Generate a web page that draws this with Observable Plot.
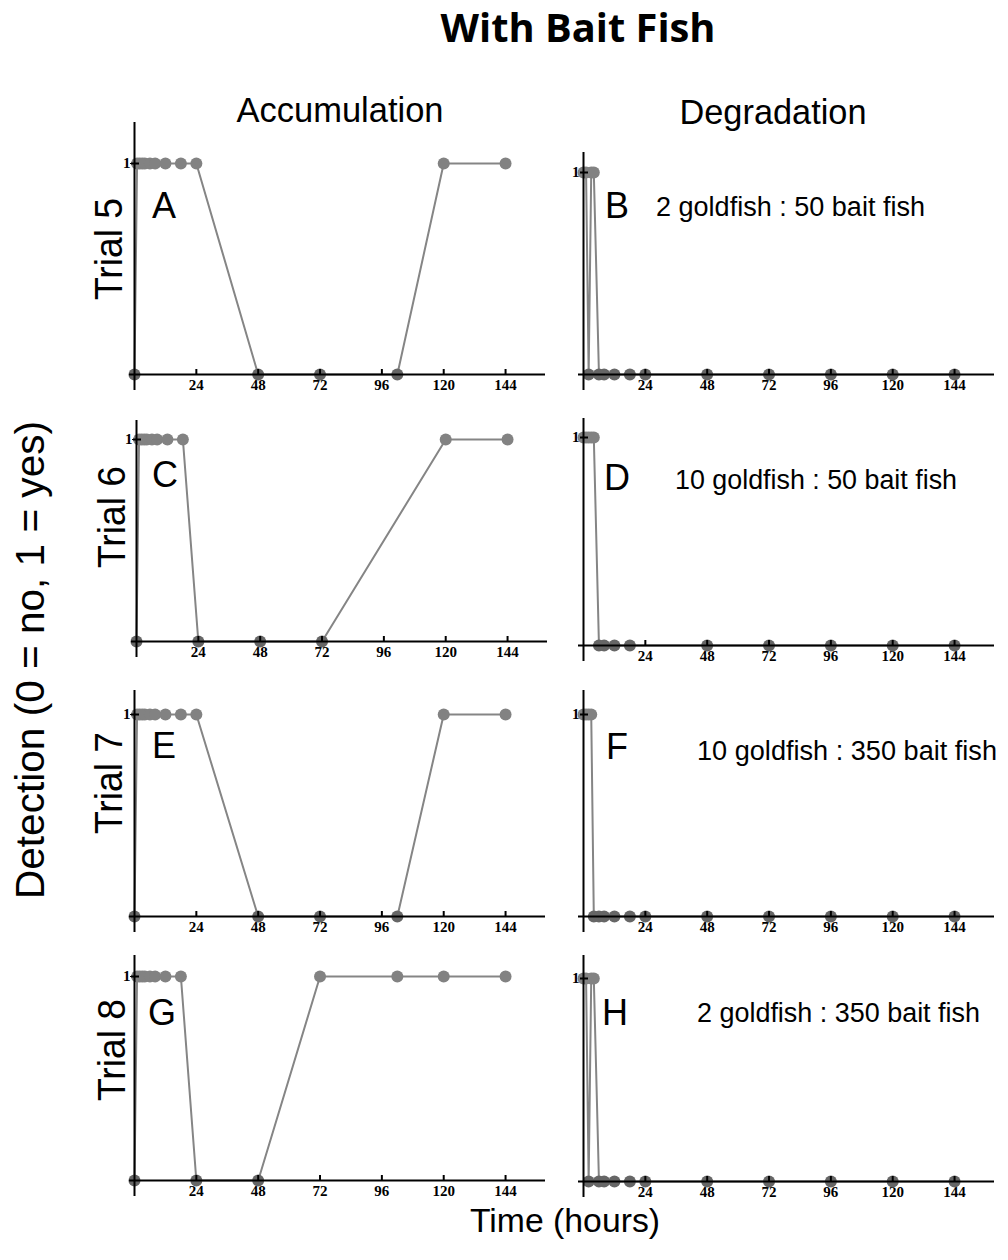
<!DOCTYPE html>
<html><head><meta charset="utf-8">
<script src="https://cdn.jsdelivr.net/npm/d3@7"></script>
<script src="https://cdn.jsdelivr.net/npm/@observablehq/plot@0.6"></script>
<style>
body{margin:0;background:#fff;}
#root{position:relative;width:1008px;height:1260px;overflow:hidden;}
.panel{position:absolute;}
.panel text{font-family:'Liberation Serif','Times New Roman',serif !important;font-weight:bold !important;font-size:15px !important;fill:#000;}
#overlay{position:absolute;left:0;top:0;pointer-events:none;}
</style></head><body><div id="root"></div>
<script>
// ---- data (hours, detection 0/1) ----
const timeA = [0,1,2,3,4,6,8,12,18,24,48,72,102,120,144];
const detA  = [0,1,1,1,1,1,1,1,1,1,0,0,0,1,1];
const timeB = [0,1,2,3,4,6,8,12,18,24,48,72,96,120,144];
const detB  = [1,1,0,1,1,0,0,0,0,0,0,0,0,0,0];
const timeC = [0,1,2,3,4,6,8,12,18,24,48,72,120,144];
const detC  = [0,1,1,1,1,1,1,1,1,0,0,0,1,1];
const timeD = [0,1,2,3,4,6,8,12,18,48,72,96,120,144];
const detD  = [1,1,1,1,1,0,0,0,0,0,0,0,0,0];
const timeE = [0,1,2,3,4,6,8,12,18,24,48,72,102,120,144];
const detE  = [0,1,1,1,1,1,1,1,1,1,0,0,0,1,1];
const timeF = [0,1,2,3,4,6,8,12,18,24,48,72,96,120,144];
const detF  = [1,1,1,1,0,0,0,0,0,0,0,0,0,0,0];
const timeG = [0,1,2,3,4,6,8,12,18,24,48,72,102,120,144];
const detG  = [0,1,1,1,1,1,1,1,1,0,0,1,1,1,1];
const timeH = [0,1,2,3,4,6,8,12,18,24,48,72,96,120,144];
const detH  = [1,1,0,1,1,0,0,0,0,0,0,0,0,0,0];

const xTicks = [24,48,72,96,120,144];
const yTicks = [1];
const panelLetters = ["A","B","C","D","E","F","G","H"];
const trialLabels = ["Trial 5","Trial 6","Trial 7","Trial 8"];
const columnTitles = ["Accumulation","Degradation"];
const ratioNotes = ["2 goldfish : 50 bait fish","10 goldfish : 50 bait fish","10 goldfish : 350 bait fish","2 goldfish : 350 bait fish"];
const chartTitle = "With Bait Fish";
const xTitle = "Time (hours)";
const yTitle = "Detection  (0 = no, 1 = yes)";

// ---- layout ----
const series = [[timeA,detA],[timeB,detB],[timeC,detC],[timeD,detD],[timeE,detE],[timeF,detF],[timeG,detG],[timeH,detH]];
const layout = [
  {ox:134, y1:163, y0:374, top:122},
  {ox:583, y1:172, y0:374, top:152},
  {ox:136, y1:439, y0:641, top:420},
  {ox:583, y1:437, y0:645, top:418},
  {ox:134, y1:714, y0:916, top:690},
  {ox:583, y1:714, y0:916, top:690},
  {ox:134, y1:976, y0:1180, top:955},
  {ox:583, y1:978, y0:1181, top:955}
];
const plotW = 411; // px from origin to end of x axis
const xMax = 159.5;

const root = document.getElementById("root");

series.forEach(([ts, vs], i) => {
  const L = layout[i];
  const data = ts.map((t, k) => ({t, v: vs[k]}));
  const svgLeft = L.ox - 60;
  const svgTop = L.top - 10;
  const width = 60 + plotW + 12;
  const marginTop = L.y1 - svgTop;
  const frameH = L.y0 - L.y1;
  const height = marginTop + frameH + 34;
  const chart = Plot.plot({
    width, height,
    marginLeft: 60, marginRight: 12, marginTop, marginBottom: 34,
    style: {background: "transparent", overflow: "visible"},
    x: {domain: [0, xMax], ticks: xTicks, tickSize: 0, tickPadding: 5, label: null},
    y: {domain: [0, 1], ticks: yTicks, tickSize: 4, tickPadding: 0, tickFormat: d => String(d), label: null},
    marks: [
      Plot.line(data, {x: "t", y: "v", stroke: "#858585", strokeWidth: 2}),
      Plot.dot(data.filter(d => d.v === 1), {x: "t", y: "v", r: 6, fill: "#828282"}),
      Plot.dot(data.filter(d => d.v === 0), {x: "t", y: "v", r: 6, fill: "#666666"}),
      Plot.ruleY([0], {stroke: "#000", strokeWidth: 2, insetLeft: -5}),
      Plot.ruleX([0], {stroke: "#000", strokeWidth: 2, insetTop: -(L.y1 - L.top), insetBottom: -16}),
      Plot.tickX(xTicks, {x: d => d, stroke: "#000", strokeWidth: 2, insetTop: frameH - 5}),
      Plot.ruleY(yTicks, {stroke: "#000", strokeWidth: 2, insetLeft: -3, insetRight: plotW - 5})
    ]
  });
  chart.classList.add("panel");
  chart.style.left = svgLeft + "px";
  chart.style.top = svgTop + "px";
  root.appendChild(chart);
});

// ---- text overlay ----
const ov = d3.select(root).append("svg").attr("id", "overlay").attr("width", 1008).attr("height", 1260);
const sans = "'Liberation Sans', Arial, sans-serif";
function txt(s, x, y, o = {}) {
  const t = ov.append("text").text(s)
    .attr("font-family", o.family || sans)
    .attr("font-size", o.size || 34)
    .attr("font-weight", o.weight || "normal")
    .attr("text-anchor", o.anchor || "middle")
    .attr("fill", "#000");
  if (o.len) t.attr("textLength", o.len).attr("lengthAdjust", "spacingAndGlyphs");
  if (o.rotate) t.attr("transform", `translate(${x},${y}) rotate(${o.rotate})`);
  else t.attr("x", x).attr("y", y);
  return t;
}
txt(chartTitle, 578, 42, {family: "'Open Sans', sans-serif", weight: 700, size: 39, len: 275});
txt(columnTitles[0], 340, 122, {size: 35, len: 207});
txt(columnTitles[1], 773, 124, {size: 35, len: 187});
txt(xTitle, 565, 1232, {size: 34, len: 190});
txt(yTitle, 44, 660, {rotate: -90, size: 40, len: 478});
const trialPos = [[122,249],[125,517],[122,783],[125,1050]];
trialLabels.forEach((s, i) => txt(s, trialPos[i][0], trialPos[i][1], {rotate: -90, size: 38, len: 102}));
const letterPos = [[152,218],[605,218],[152,487],[604,490],[152,758],[606,759],[148,1025],[602,1025]];
panelLetters.forEach((s, i) => txt(s, letterPos[i][0], letterPos[i][1], {anchor: "start", size: 36}));
const notePos = [[656,216],[675,489],[697,760],[697,1022]];
const noteLen = [269, 282, 300, 283];
ratioNotes.forEach((s, i) => txt(s, notePos[i][0], notePos[i][1], {anchor: "start", size: 27, len: noteLen[i]}));
</script></body></html>
